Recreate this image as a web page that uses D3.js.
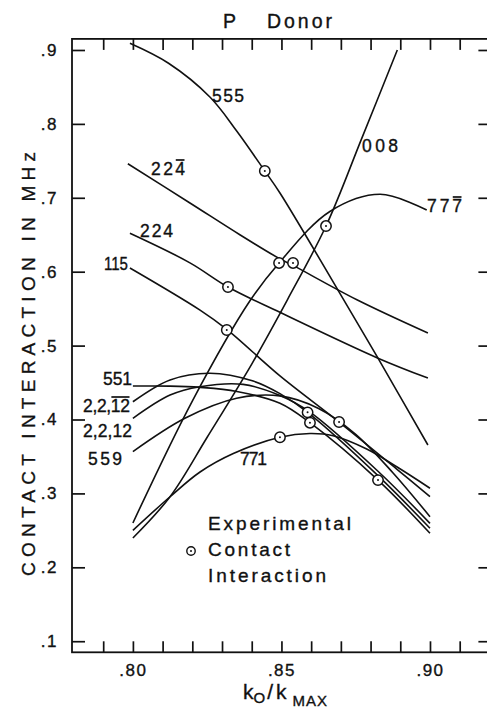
<!DOCTYPE html>
<html>
<head>
<meta charset="utf-8">
<script src="https://cdn.jsdelivr.net/npm/d3@7/dist/d3.min.js"></script>
<style>
  body { margin: 0; background: #fff; }
  text { font-family: "Liberation Sans", Arial, sans-serif; fill: #111; stroke: #111; stroke-width: 0.35px; }
</style>
</head>
<body>
<svg id="chart" width="487" height="709"></svg>
<script>
// Calculated contact interaction (MHz) versus k0/kMAX, one series per valley set
const curve555  = [[0.799,0.909],[0.812,0.882],[0.826,0.836],[0.835,0.79],[0.8444,0.7363],[0.8495,0.7065],[0.873,0.548],[0.8825,0.483],[0.8993,0.3655]];
const curve224b = [[0.7983,0.746],[0.8192,0.693],[0.836,0.650],[0.8492,0.618],[0.8539,0.6085],[0.8754,0.562],[0.8993,0.517]];
const curve224  = [[0.799,0.652],[0.8192,0.612],[0.832,0.5793],[0.8495,0.545],[0.8825,0.483],[0.8993,0.456]];
const curve115  = [[0.799,0.605],[0.8226,0.548],[0.8316,0.522],[0.8495,0.459],[0.8694,0.3966],[0.8888,0.333],[0.9,0.2956]];
const curve008  = [[0.8,0.2397],[0.8125,0.2955],[0.825,0.376],[0.84,0.475],[0.852,0.562],[0.865,0.6618],[0.877,0.78],[0.889,0.9]];
const curve777b = [[0.8,0.26],[0.82,0.425],[0.8394,0.5606],[0.8492,0.6118],[0.8663,0.6815],[0.8832,0.7047],[0.8989,0.6835]];
const curve551  = [[0.8,0.4453],[0.8125,0.4452],[0.8226,0.4435],[0.835,0.438],[0.8495,0.422],[0.8596,0.3957],[0.8825,0.318],[0.9,0.246]];
const curve2212b= [[0.8,0.424],[0.8125,0.4535],[0.8259,0.4626],[0.8405,0.452],[0.8495,0.435],[0.8588,0.4097],[0.8825,0.324],[0.9,0.2528]];
const curve2212 = [[0.8,0.4016],[0.8125,0.4331],[0.8226,0.4444],[0.8371,0.4475],[0.8495,0.4325],[0.8596,0.41],[0.8825,0.33],[0.9,0.2595]];
const curve559  = [[0.8,0.3565],[0.8175,0.4016],[0.8349,0.4287],[0.8495,0.432],[0.8625,0.415],[0.875,0.38],[0.8875,0.328],[0.9,0.2685]];
const curve771  = [[0.8,0.25],[0.8125,0.2955],[0.8226,0.329],[0.8338,0.354],[0.8495,0.376],[0.8596,0.381],[0.8674,0.378],[0.8787,0.36],[0.8888,0.336],[0.9,0.307]];

// Experimental contact interaction points
const expK = [0.8444,0.8492,0.8539,0.865,0.832,0.8316,0.8588,0.8596,0.8694,0.8495,0.8825];
const expA = [0.7363,0.6118,0.6118,0.6618,0.5793,0.5211,0.4097,0.3957,0.3966,0.376,0.318];

// Axis ticks
const kMinorTicks = [0.79,0.80,0.81,0.82,0.83,0.84,0.85,0.86,0.87,0.88,0.89,0.90,0.91];
const kLabelTicks = [0.80,0.85,0.90];
const aTicks = [0.1,0.2,0.3,0.4,0.5,0.6,0.7,0.8,0.9];

const svg = d3.select("#chart");
const plotL = 72, plotR = 489.4, plotT = 38.9, plotB = 652.3;
const x = d3.scaleLinear().domain([0.7795, 0.92]).range([plotL, plotR]);
const y = d3.scaleLinear().domain([0.085, 0.915]).range([plotB, plotT]);

// Frame
svg.append("rect")
  .attr("x", plotL).attr("y", plotT)
  .attr("width", plotR - plotL).attr("height", plotB - plotT)
  .attr("fill", "none").attr("stroke", "#111").attr("stroke-width", 1.8);

const fmt = d => d3.format(".2f")(d).replace(/^0/, "");
const styleAxis = g => {
  g.select(".domain").remove();
  g.selectAll(".tick line").attr("stroke", "#111").attr("stroke-width", 1.7);
  g.selectAll(".tick text").attr("fill", "#111").attr("stroke", "#111").attr("stroke-width", 0.35)
    .style("font-family", '"Liberation Sans", Arial, sans-serif')
    .style("font-size", "17px").style("letter-spacing", "1.5px");
};

svg.append("g").attr("transform", `translate(0,${plotB})`)
  .call(d3.axisBottom(x).tickValues(kMinorTicks).tickSize(-11).tickSizeOuter(0).tickPadding(12)
    .tickFormat(d => kLabelTicks.some(v => Math.abs(v - d) < 1e-9) ? fmt(d) : ""))
  .call(styleAxis);
svg.append("g").attr("transform", `translate(0,${plotT})`)
  .call(d3.axisTop(x).tickValues(kMinorTicks).tickSize(-11).tickSizeOuter(0).tickFormat(""))
  .call(styleAxis);
svg.append("g").attr("transform", `translate(${plotL},0)`)
  .call(d3.axisLeft(y).tickValues(aTicks).tickSize(-13).tickSizeOuter(0).tickPadding(14)
    .tickFormat(d => "." + Math.round(d * 10)))
  .call(styleAxis);
svg.append("g").attr("transform", `translate(${plotR},0)`)
  .call(d3.axisRight(y).tickValues(aTicks).tickSize(-11).tickSizeOuter(0).tickFormat(""))
  .call(styleAxis);

// Curves
const line = d3.line().x(d => x(d[0])).y(d => y(d[1])).curve(d3.curveCatmullRom.alpha(0.5));
const curves = [curve555, curve224b, curve224, curve115, curve008, curve777b, curve551, curve2212b, curve2212, curve559, curve771];
svg.append("g").selectAll("path").data(curves).join("path")
  .attr("d", line).attr("fill", "none").attr("stroke", "#111").attr("stroke-width", 1.6);

// Experimental points: open circle with centre dot
const pts = svg.append("g").selectAll("g").data(expK.map((k, i) => [k, expA[i]])).join("g")
  .attr("transform", d => `translate(${x(d[0])},${y(d[1])})`);
pts.append("circle").attr("r", 5.2).attr("fill", "#fff").attr("stroke", "#111").attr("stroke-width", 1.5);
pts.append("circle").attr("r", 1).attr("fill", "#111");

// Curve labels: text, left x, baseline y, width, characters under an overbar, font size, fit mode
const labels = [
  ["555", 212, 102, 32, 0, 17.5, "spacing"],
  ["224", 151, 175, 34, 1, 17.5, "spacing"],
  ["224", 140, 237, 33, 0, 17.5, "spacing"],
  ["115", 104, 270, 24, 0, 17.5, "spacingAndGlyphs"],
  ["008", 362, 152, 36, 0, 17.5, "spacing"],
  ["777", 427, 212, 35, 1, 17.5, "spacing"],
  ["551", 103, 385, 29, 0, 17.5, "spacing"],
  ["2,2,12", 83, 412, 47, 2, 17.5, "spacing"],
  ["2,2,12", 83, 437, 49, 0, 17.5, "spacing"],
  ["559", 88, 465, 34, 0, 17.5, "spacing"],
  ["771", 240, 465, 27, 0, 17.5, "spacing"]
];
labels.forEach(([t, lx, ly, w, nbar, fs, fit]) => {
  const el = svg.append("text").attr("x", lx).attr("y", ly)
    .attr("textLength", w).attr("lengthAdjust", fit)
    .style("font-size", fs + "px").text(t);
  if (nbar) {
    const node = el.node();
    const n = t.length;
    const a = node.getExtentOfChar(n - nbar), b = node.getExtentOfChar(n - 1);
    svg.append("line")
      .attr("x1", a.x + 0.5).attr("x2", b.x + b.width - 0.5)
      .attr("y1", ly - 15).attr("y2", ly - 15)
      .attr("stroke", "#111").attr("stroke-width", 1.7);
  }
});

// Title
svg.append("text").attr("x", 223).attr("y", 28).style("font-size", "19.5px").text("P");
svg.append("text").attr("x", 267).attr("y", 28).attr("textLength", 65).attr("lengthAdjust", "spacing")
  .style("font-size", "19.5px").text("Donor");

// Axis titles
svg.append("text").attr("transform", "translate(35,364) rotate(-90)")
  .attr("text-anchor", "middle").attr("textLength", 424).attr("lengthAdjust", "spacing")
  .style("font-size", "19px").text("CONTACT INTERACTION IN MHz");

const xt = svg.append("text").attr("x", 243).attr("y", 699).style("font-size", "21px");
xt.append("tspan").text("k");
xt.append("tspan").attr("dy", 4).style("font-size", "15px").text("O");
xt.append("tspan").attr("dy", -4).attr("dx", 2).text("/");
xt.append("tspan").attr("dx", 3).text("k");
xt.append("tspan").attr("dy", 7).attr("dx", 6).style("font-size", "15px").attr("letter-spacing", "1px").text("MAX");

// Legend
svg.append("circle").attr("cx", 191).attr("cy", 551).attr("r", 4.2)
  .attr("fill", "#fff").attr("stroke", "#111").attr("stroke-width", 1.4);
svg.append("circle").attr("cx", 191).attr("cy", 551).attr("r", 1).attr("fill", "#111");
[["Experimental", 530, 143], ["Contact", 556, 82], ["Interaction", 582, 118]].forEach(([t, ly, w]) => {
  svg.append("text").attr("x", 208).attr("y", ly).attr("textLength", w).attr("lengthAdjust", "spacing")
    .style("font-size", "19px").text(t);
});
</script>
</body>
</html>
